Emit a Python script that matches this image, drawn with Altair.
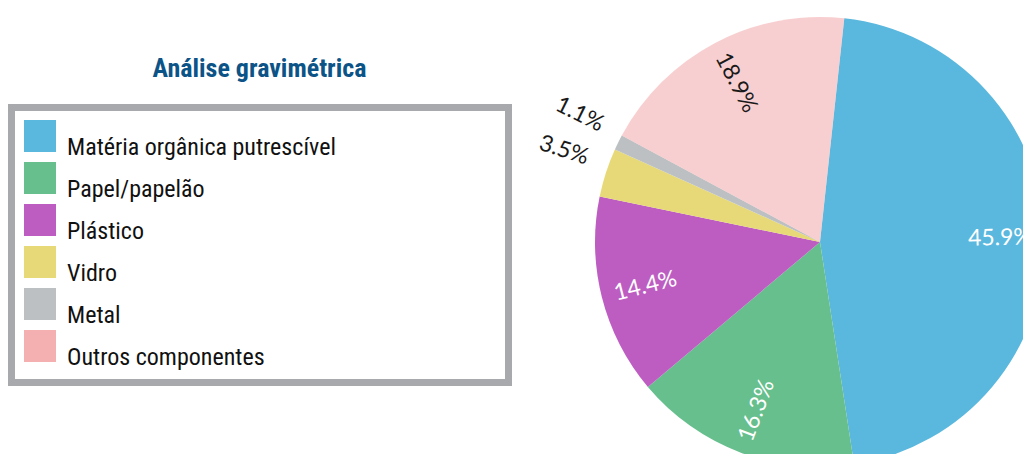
import math
import altair as alt
import pandas as pd

# ---- data ----
categories = [
    "Matéria orgânica putrescível",
    "Papel/papelão",
    "Plástico",
    "Vidro",
    "Metal",
    "Outros componentes",
]
values = [45.9, 16.3, 14.4, 3.5, 1.1, 18.9]
colors = ["#5ab8de", "#66bf8d", "#bd5dc2", "#e7d978", "#bcc0c3", "#f4afb0"]
order_idx = [0, 1, 2, 3, 4, 5]
title_text = "Análise gravimétrica"

df = pd.DataFrame({"cat": categories, "value": values, "idx": order_idx})

# ---- layout / style ----
OFFSET_DEG = 6.2
off = math.radians(OFFSET_DEG)
CX, CY, R = 812, 234, 225
LEGEND_FONT = "Roboto Condensed, DejaVu Sans Condensed, sans-serif"
LABEL_FONT = "Lato"
PAD = "\u00a0" * 29 + "\u200b"

base = alt.Chart(df).encode(
    theta=alt.Theta("value:Q", stack=True,
                    scale=alt.Scale(range=[off, off + 2 * math.pi])),
    order=alt.Order("idx:Q"),
)

arcs = base.mark_arc(radius=R, strokeWidth=0).encode(
    x=alt.value(CX),
    y=alt.value(CY),
    color=alt.Color(
        "cat:N",
        scale=alt.Scale(domain=categories, range=colors),
        legend=alt.Legend(
            title=None,
            orient="none",
            legendX=3.5,
            legendY=99.5,
            symbolType="square",
            symbolSize=1024,
            symbolStrokeWidth=0,
            symbolOpacity=1,
            labelFont=LEGEND_FONT,
            labelFontSize=24,
            labelColor="#111111",
            labelOffset=11,
            labelBaseline="top",
            labelLimit=800,
            labelExpr="datum.label + '" + PAD + "'",
            rowPadding=2.0,
            padding=12.5,
            strokeColor="#a7a9ac",
        ),
    ),
    opacity=alt.condition(alt.datum.cat == "Outros componentes",
                          alt.value(0.6), alt.value(1)),
)

lab = (
    base.transform_window(cum="sum(value)", sort=[alt.SortField("idx")], frame=[None, 0])
    .transform_joinaggregate(total="sum(value)")
    .transform_calculate(mid=f"{OFFSET_DEG} + (datum.cum - datum.value/2)/datum.total*360")
    .transform_calculate(rot0="datum.mid - 90 > 90 ? datum.mid - 270 : datum.mid - 90")
    .transform_calculate(rot="(datum.rot0 + 360) % 360")
    .transform_calculate(label="format(datum.value, '.1f') + '%'")
    .transform_calculate(inner="datum.value >= 5 ? datum.label : ''")
    .transform_calculate(outer="datum.value < 5 ? datum.label : ''")
)

inner_labels = lab.mark_text(
    font=LABEL_FONT, fontSize=23, align="center", baseline="middle", radius=180
).encode(
    x=alt.value(CX),
    y=alt.value(CY),
    angle=alt.Angle("rot:Q", scale=None),
    text="inner:N",
    color=alt.condition(alt.datum.cat == "Outros componentes",
                        alt.value("#1a1a1a"), alt.value("white")),
)

outer_labels = lab.mark_text(
    font=LABEL_FONT, fontSize=23, align="center", baseline="middle", radius=272,
    thetaOffset=0.03, color="#1a1a1a",
).encode(
    x=alt.value(CX),
    y=alt.value(CY),
    angle=alt.Angle("rot:Q", scale=None),
    text="outer:N",
)

title = alt.Chart(alt.Data(values=[{"t": title_text}])).mark_text(
    font=LEGEND_FONT, fontSize=26, fontWeight="bold", color="#0c5487",
    align="center", baseline="alphabetic",
).encode(text="t:N", x=alt.value(251.5), y=alt.value(69))

chart = (
    alt.layer(arcs, inner_labels, outer_labels, title)
    .properties(width=1015, height=446, padding=0, autosize=alt.AutoSizeParams(type="none"))
    .configure_view(strokeWidth=0)
    .configure_legend(strokeWidth=7)
)

chart.save("out.html", embed_options={"renderer": "svg", "actions": False})
